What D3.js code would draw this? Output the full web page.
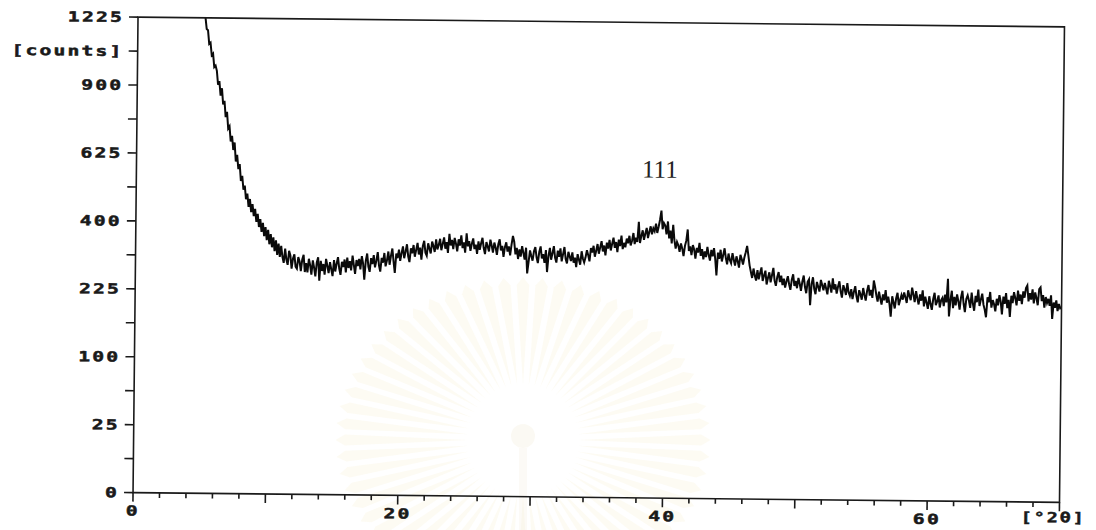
<!DOCTYPE html>
<html>
<head>
<meta charset="utf-8">
<script src="https://cdn.jsdelivr.net/npm/d3@7"></script>
<style>
  html, body { margin: 0; padding: 0; background: #fff; }
  svg { display: block; }
</style>
</head>
<body>
<div id="chart"></div>
<script>
// Diffractogramme : pas de 0.1 °2θ à partir de 5.0
const twoThetaStart = 5.0;
const twoThetaStep = 0.1;

// comptages, une ligne par degré
const counts = [
  1270, 1228, 1168, 1162, 1095, 1101, 1040, 1048, 985, 992,
  968, 905, 921, 858, 890, 820, 836, 768, 790, 722,
  731, 672, 694, 640, 668, 598, 622, 571, 589, 530,
  548, 501, 515, 470, 488, 446, 471, 430, 455, 418,
  440, 401, 425, 386, 409, 372, 398, 360, 386, 349,
  378, 338, 366, 330, 357, 320, 349, 310, 340, 305,
  334, 305, 290, 327, 298, 285, 321, 309, 276, 301,
  312, 281, 276, 305, 294, 270, 299, 311, 268, 290,
  267, 301, 285, 262, 297, 279, 258, 292, 305, 248,
  296, 271, 288, 262, 301, 284, 266, 293, 275, 259,
  298, 270, 289, 306, 277, 262, 294, 281, 300, 268,
  305, 279, 296, 273, 310, 287, 265, 299, 284, 302,
  276, 309, 290, 251, 297, 316, 283, 270, 304, 289,
  312, 281, 298, 320, 286, 271, 305, 293, 318, 284,
  299, 322, 288, 311, 330, 296, 268, 317, 305, 327,
  298, 318, 336, 305, 322, 342, 310, 295, 331, 318,
  340, 309, 327, 346, 315, 333, 302, 338, 352, 320,
  312, 345, 331, 318, 350, 338, 322, 356, 329, 341,
  358, 327, 344, 362, 331, 349, 320, 372, 340, 355,
  330, 361, 345, 324, 357, 340, 368, 333, 349, 321,
  374, 338, 352, 326, 345, 360, 331, 343, 318, 352,
  329, 347, 362, 334, 318, 350, 338, 325, 357, 341,
  322, 349, 336, 316, 345, 358, 328, 340, 311, 337,
  350, 325, 339, 315, 344, 368, 352, 318, 335, 306,
  331, 312, 340, 322, 305, 336, 270, 299, 329, 314,
  302, 327, 338, 311, 296, 325, 340, 308, 319, 297,
  330, 274, 315, 336, 305, 322, 341, 310, 298, 329,
  313, 335, 301, 320, 339, 307, 296, 326, 314, 302,
  325, 298, 311, 287, 320, 306, 293, 328, 309, 299,
  312, 331, 318, 302, 337, 325, 343, 314, 330, 348,
  322, 339, 356, 328, 344, 318, 352, 336, 360, 331,
  349, 366, 338, 354, 327, 361, 343, 372, 335, 352,
  340, 364, 351, 372, 345, 358, 380, 349, 367, 355,
  413, 352, 372, 388, 361, 379, 395, 366, 384, 400,
  377, 394, 386, 408, 381, 399, 420, 448, 392, 410,
  403, 377, 415, 366, 388, 352, 405, 361, 338, 356,
  347, 329, 352, 338, 318, 345, 360, 392, 332, 344,
  321, 348, 336, 312, 340, 328, 354, 319, 337, 310,
  331, 316, 343, 322, 307, 335, 318, 340, 311, 270,
  328, 312, 336, 305, 322, 340, 314, 298, 326, 309,
  301, 327, 310, 295, 319, 306, 290, 323, 312, 298,
  316, 330, 347, 322, 296, 280, 265, 288, 271, 259,
  284, 262, 277, 291, 258, 271, 283, 250, 266, 279,
  255, 272, 290, 259, 247, 268, 280, 256, 271, 249,
  264, 243, 258, 270, 251, 238, 262, 275, 247, 259,
  242, 266, 253, 236, 258, 272, 245, 231, 257, 263,
  205, 252, 268, 241, 229, 257, 246, 235, 262, 250,
  238, 255, 242, 229, 260, 248, 233, 266, 240, 252,
  231, 247, 259, 236, 222, 250, 241, 228, 255, 234,
  226, 241, 219, 235, 248, 225, 212, 239, 230, 218,
  244, 229, 216, 238, 251, 227, 240, 222, 262, 247,
  228, 214, 236, 221, 208, 230, 217, 240, 212, 225,
  209, 183, 226, 213, 200, 222, 234, 207, 218, 229,
  219, 235, 224, 212, 240, 227, 218, 246, 231, 214,
  238, 222, 209, 231, 217, 240, 205, 226, 213, 200,
  227, 210, 198, 221, 235, 208, 216, 229, 203, 219,
  224, 206, 231, 214, 268, 185, 219, 240, 202, 226,
  208, 232, 217, 199, 225, 240, 211, 194, 222, 230,
  218, 203, 236, 212, 197, 229, 215, 243, 207, 221,
  234, 210, 199, 184, 226, 215, 238, 204, 220, 211,
  196, 223, 209, 231, 217, 190, 228, 212, 236, 203,
  221, 185, 230, 214, 238, 225, 209, 242, 219, 233,
  212, 240, 226, 248, 254, 218, 236, 222, 245, 214,
  238, 225, 210, 246, 250, 219, 232, 205, 228, 215,
  224, 209, 232, 182, 216, 205, 221, 198, 213, 204,
  206
];

// axes
const xTicks = [0, 2, 4, 6, 8, 10, 12, 14, 16, 18, 20, 22, 24, 26, 28, 30, 32, 34,
  36, 38, 40, 42, 44, 46, 48, 50, 52, 54, 56, 58, 60, 62, 64, 66, 68, 70];
const xLabelValues = [0, 20, 40, 60, 70];
const xLabelTexts = ['0', '20', '40', '60', '[°2θ]'];
const yTicks = [0, 6.25, 25, 56.25, 100, 156.25, 225, 306.25, 400, 506.25, 625,
  756.25, 900, 1056.25, 1225];
const yLabelValues = [0, 25, 100, 225, 400, 625, 900, 1056.25, 1225];
const yLabelTexts = ['0', '25', '100', '225', '400', '625', '900', '[counts]', '1225'];

// raie indexée
const peakLabelText = '111';
const peakLabelAt = [39.55, 556];

const width = 1096;
const height = 530;
const plot = { left: 135.5, right: 1062, top: 22, bottom: 497.5 };
const tilt = 0.6; // le scan est légèrement tourné

const svg = d3.select('#chart')
  .append('svg')
  .attr('width', width)
  .attr('height', height);

// filigrane très pâle derrière le graphe
const wm = svg.append('g').attr('transform', 'translate(523,440)');
const nRays = 60;
for (let i = 0; i < nRays; i++) {
  const a = i / nRays * 2 * Math.PI;
  const da = 0.035;
  const r0 = 55, r1 = 155;
  const p = [
    [Math.cos(a) * r0, Math.sin(a) * r0],
    [Math.cos(a - da) * r1 * 1.15, Math.sin(a - da) * r1],
    [Math.cos(a) * (r1 + 8) * 1.15, Math.sin(a) * (r1 + 8)],
    [Math.cos(a + da) * r1 * 1.15, Math.sin(a + da) * r1]
  ];
  wm.append('path')
    .attr('d', 'M' + p.join('L') + 'Z')
    .style('fill', '#f6ebc4')
    .style('opacity', 0.2);
}
wm.append('circle').attr('r', 55).style('fill', '#fff');
wm.append('circle').attr('cy', -4).attr('r', 12).style('fill', '#f5f0e2').style('opacity', 0.4);
wm.append('rect').attr('x', -4).attr('y', 8).attr('width', 8).attr('height', 90)
  .style('fill', '#f5f0e2').style('opacity', 0.3);

const g = svg.append('g')
  .attr('transform', `rotate(${tilt},600,260)`);

const x = d3.scaleLinear().domain([0, 70]).range([plot.left, plot.right]);
const y = d3.scaleSqrt().domain([0, 1225]).range([plot.bottom, plot.top]);

g.append('clipPath').attr('id', 'clip')
  .append('rect')
  .attr('x', plot.left).attr('y', plot.top)
  .attr('width', plot.right - plot.left).attr('height', plot.bottom - plot.top);

const data = counts.map((c, i) => ({ tt: twoThetaStart + i * twoThetaStep, c: c }));

const line = d3.line()
  .x(d => x(d.tt))
  .y(d => y(d.c));

g.append('path')
  .datum(data)
  .attr('clip-path', 'url(#clip)')
  .attr('d', line)
  .style('fill', 'none')
  .style('stroke', '#0a0a0a')
  .style('stroke-width', 2.0)
  .style('stroke-linejoin', 'miter');

// cadre
g.append('rect')
  .attr('x', plot.left).attr('y', plot.top)
  .attr('width', plot.right - plot.left).attr('height', plot.bottom - plot.top)
  .style('fill', 'none')
  .style('stroke', '#1a1a1a')
  .style('stroke-width', 1.6);

// ticks x
g.selectAll('.xtick')
  .data(xTicks)
  .enter()
  .append('line')
  .attr('x1', d => x(d)).attr('x2', d => x(d))
  .attr('y1', plot.bottom)
  .attr('y2', d => plot.bottom + (d % 10 === 0 ? 9 : 5))
  .style('stroke', '#1a1a1a')
  .style('stroke-width', 1.6);

// ticks y
g.selectAll('.ytick')
  .data(yTicks)
  .enter()
  .append('line')
  .attr('x1', plot.left - 9).attr('x2', plot.left)
  .attr('y1', d => y(d)).attr('y2', d => y(d))
  .style('stroke', '#1a1a1a')
  .style('stroke-width', 1.6);

const labelFont = "'DejaVu Sans Mono', monospace";
const stretch = 1.4;

function styleLabel(t) {
  t.style('font-family', labelFont)
    .style('font-weight', 'bold')
    .style('font-size', '14px')
    .style('letter-spacing', '1.6px')
    .style('fill', '#1a1a1a')
    .style('stroke', '#1a1a1a')
    .style('stroke-width', 0.5);
}

xLabelValues.forEach((v, i) => {
  const last = i === xLabelValues.length - 1;
  const t = g.append('text')
    .attr('transform', `translate(${x(v) - (last ? 6 : 0)},${plot.bottom + (last ? 20 : 23)}) scale(${last ? 1.3 : stretch},1)`)
    .attr('text-anchor', 'middle')
    .text(xLabelTexts[i]);
  styleLabel(t);
});

yLabelValues.forEach((v, i) => {
  const t = g.append('text')
    .attr('transform', `translate(${plot.left - 14},${y(v) + 5}) scale(${stretch},1)`)
    .attr('text-anchor', 'end')
    .text(yLabelTexts[i]);
  styleLabel(t);
});

g.append('text')
  .attr('x', x(peakLabelAt[0]))
  .attr('y', y(peakLabelAt[1]))
  .attr('text-anchor', 'middle')
  .style('font-family', "'Liberation Serif', serif")
  .style('font-size', '25px')
  .style('fill', '#222')
  .text(peakLabelText);
</script>
</body>
</html>
